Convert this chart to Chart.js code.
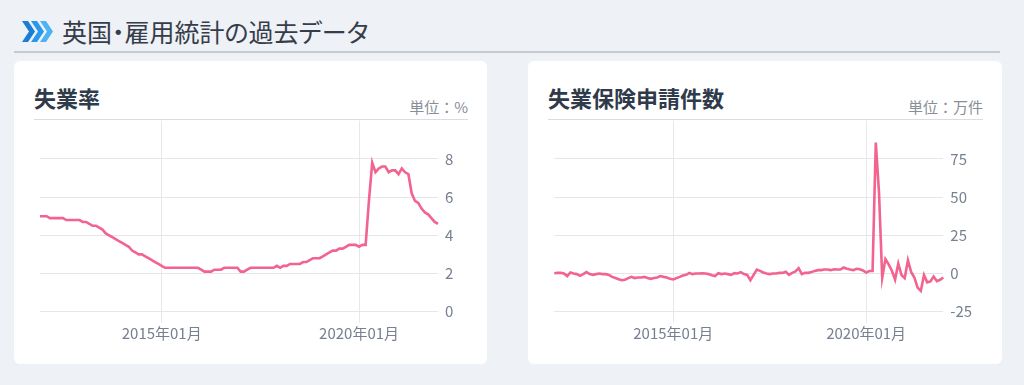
<!DOCTYPE html>
<html lang="ja">
<head>
<meta charset="utf-8">
<script src="https://cdn.jsdelivr.net/npm/chart.js@4.4.0/dist/chart.umd.min.js"></script>
<style>
  html, body {
    margin: 0;
    padding: 0;
    width: 1024px;
    height: 385px;
    background: #eef1f5;
    font-family: "Noto Sans CJK JP", "Noto Sans", sans-serif;
    overflow: hidden;
  }
  .head-icon {
    position: absolute;
    left: 22px;
    top: 21px;
  }
  .head-title {
    position: absolute;
    left: 62px;
    top: 17px;
    font-size: 25px;
    line-height: 29px;
    color: #363d4a;
    font-feature-settings: "palt";
  }
  .head-rule {
    position: absolute;
    left: 14px;
    width: 986px;
    top: 51px;
    height: 2px;
    background: #c6cacf;
  }
  .card {
    position: absolute;
    top: 61px;
    height: 303px;
    background: #fff;
    border-radius: 6px;
  }
  .card h2 {
    position: absolute;
    left: 20px;
    top: 23px;
    margin: 0;
    font-size: 22px;
    line-height: 26px;
    font-weight: bold;
    color: #2f3a4a;
  }
  .card .unit {
    position: absolute;
    right: 19px;
    top: 37px;
    font-size: 15px;
    line-height: 18px;
    color: #878e98;
  }
  .card .rule {
    position: absolute;
    left: 20px;
    right: 19px;
    top: 58px;
    height: 1px;
    background: #d9dce1;
  }
  .card .box {
    position: absolute;
    left: 20px;
    top: 58px;
    height: 231px;
  }
</style>
</head>
<body>

<svg class="head-icon" width="32" height="21" viewBox="0 0 32 21">
  <polygon points="0,0 6,0 13,10.5 6,21 0,21 7,10.5" fill="#1a7fd4"/>
  <polygon points="9,0 15,0 22,10.5 15,21 9,21 16,10.5" fill="#2a98ec"/>
  <polygon points="18,0 24,0 31,10.5 24,21 18,21 25,10.5" fill="#4db4f4"/>
</svg>
<div class="head-title">英国・雇用統計の過去データ</div>
<div class="head-rule"></div>

<div class="card" style="left:14px; width:473px;">
  <h2>失業率</h2>
  <div class="unit">単位：%</div>
  <div class="rule"></div>
  <div class="box" style="width:436px;"><canvas id="rateChart"></canvas></div>
</div>

<div class="card" style="left:528px; width:474px;">
  <h2>失業保険申請件数</h2>
  <div class="unit">単位：万件</div>
  <div class="rule"></div>
  <div class="box" style="width:434px;"><canvas id="claimChart"></canvas></div>
</div>

<script>
// data ----------------------------------------------------------------------
// months 2011-12 .. 2022-01
const startYear = 2011;
const startMonth = 12;
const monthCount = 122;
const shownTicks = ["2015年01月", "2020年01月"];

// unemployment (claimant count) rate, %
const rateValues = [
  5.0, 5.0, 5.0, 4.9, 4.9, 4.9, 4.9, 4.9, 4.8, 4.8, 4.8, 4.8, 4.8,
  4.7, 4.7, 4.6, 4.5, 4.5, 4.4, 4.3, 4.1, 4.0, 3.9, 3.8, 3.7,
  3.6, 3.5, 3.4, 3.2, 3.1, 3.0, 3.0, 2.9, 2.8, 2.7, 2.6, 2.5,
  2.4, 2.3, 2.3, 2.3, 2.3, 2.3, 2.3, 2.3, 2.3, 2.3, 2.3, 2.3,
  2.2, 2.1, 2.1, 2.1, 2.2, 2.2, 2.2, 2.3, 2.3, 2.3, 2.3, 2.3,
  2.1, 2.1, 2.2, 2.3, 2.3, 2.3, 2.3, 2.3, 2.3, 2.3, 2.3, 2.4,
  2.3, 2.4, 2.4, 2.5, 2.5, 2.5, 2.5, 2.6, 2.6, 2.7, 2.8, 2.8,
  2.8, 2.9, 3.0, 3.1, 3.2, 3.2, 3.3, 3.3, 3.4, 3.5, 3.5, 3.5,
  3.4, 3.5, 3.5, 5.8, 7.8, 7.3, 7.5, 7.6, 7.6, 7.3, 7.4, 7.4,
  7.2, 7.5, 7.3, 7.2, 6.2, 5.8, 5.7, 5.4, 5.2, 5.1, 4.9, 4.7,
  4.6
];

// change in claimant count, 10k
const claimValues = [
  0.2, 0.4, 0.4, 0, -1.7, 0.7, 0, -0.4, -1.5, -0.4, 0.9, -0.4, -0.9,
  -0.4, 0, -0.4, -0.4, -0.9, -2.2, -3.0, -3.7, -4.4, -4.1, -3.0, -2.2,
  -3.0, -2.6, -2.6, -2.2, -3.0, -3.5, -3.0, -2.6, -1.7, -2.2, -2.6, -3.5,
  -3.9, -3.0, -2.2, -1.3, -0.9, 0.4, -0.4, 0, 0, 0.2, 0, -0.4,
  -1.1, -1.7, 0.2, -0.4, 0, -0.4, -0.9, 0.2, 0, 0.9, -0.4, -0.9,
  -4.4, -0.9, 2.6, 1.7, 0.7, 0, -0.4, 0, 0, 0.4, 0.4, 1.1,
  -0.9, 0.4, 1.3, 3.5, -0.4, 0.4, 0.4, 0.9, 1.7, 2.2, 2.2, 2.6,
  2.6, 2.2, 2.8, 2.6, 2.6, 3.9, 3.1, 2.6, 2.2, 3.1, 2.8, 2.0,
  0.6, 1.6, 1.6, 85.7, 53.0, -2.8, 9.4, 6.0, 1.8, -4.0, 6.5, -1.0,
  -3.0, 8.7, 1.0, -2.6, -9.2, -11.4, -1.0, -5.8, -5.2, -2.0, -5.0, -4.1,
  -2.6
];

const monthLabels = [];
for (let i = 0; i < monthCount; i++) {
  const m = (startMonth - 1 + i) % 12 + 1;
  const y = startYear + Math.floor((startMonth - 1 + i) / 12);
  monthLabels.push(y + "年" + String(m).padStart(2, "0") + "月");
}

// chart ---------------------------------------------------------------------
Chart.defaults.font.family = '"Noto Sans CJK JP", "Noto Sans", sans-serif';
Chart.defaults.color = "#778090";

function makeChart(id, values, yMin, yMax, yStep, yAxisWidth, padLeft) {
  const ctx = document.getElementById(id).getContext("2d");
  return new Chart(ctx, {
    type: "line",
    data: {
      labels: monthLabels,
      datasets: [
        {
          data: values,
          borderColor: "#f2638f",
          borderWidth: 2.6,
          pointRadius: 0,
          tension: 0,
          fill: false,
        },
      ],
    },
    options: {
      responsive: true,
      maintainAspectRatio: false,
      animation: false,
      layout: { padding: { left: padLeft, top: 1.7, right: 0, bottom: 0 } },
      plugins: {
        legend: { display: false },
        tooltip: { enabled: false },
      },
      scales: {
        x: {
          offset: false,
          border: { display: false },
          grid: {
            color: "#e6e8ec",
            lineWidth: 1,
            tickLength: 11,
          },
          ticks: {
            autoSkip: false,
            maxRotation: 0,
            padding: 2,
            font: { size: 15 },
            callback: function (value) {
              const lab = this.getLabelForValue(value);
              return shownTicks.includes(lab) ? lab : null;
            },
          },
          afterFit: function (scale) {
            scale.height = 38.3;
            scale.paddingLeft = 0;
            scale.paddingRight = 0;
          },
        },
        y: {
          position: "right",
          min: yMin,
          max: yMax,
          border: { display: false },
          grid: {
            color: "#e4e6ea",
            lineWidth: 1,
            drawTicks: false,
          },
          ticks: {
            stepSize: yStep,
            padding: 7,
            font: { size: 15 },
            callback: function (value) {
              return value === yMax ? null : value;
            },
          },
          afterFit: function (scale) {
            scale.width = yAxisWidth;
            scale.paddingTop = 0;
            scale.paddingBottom = 0;
          },
        },
      },
    },
  });
}

makeChart("rateChart", rateValues, 0, 10, 2, 32, 6);
makeChart("claimChart", claimValues, -25, 100, 25, 38.7, 6.3);
</script>
</body>
</html>
